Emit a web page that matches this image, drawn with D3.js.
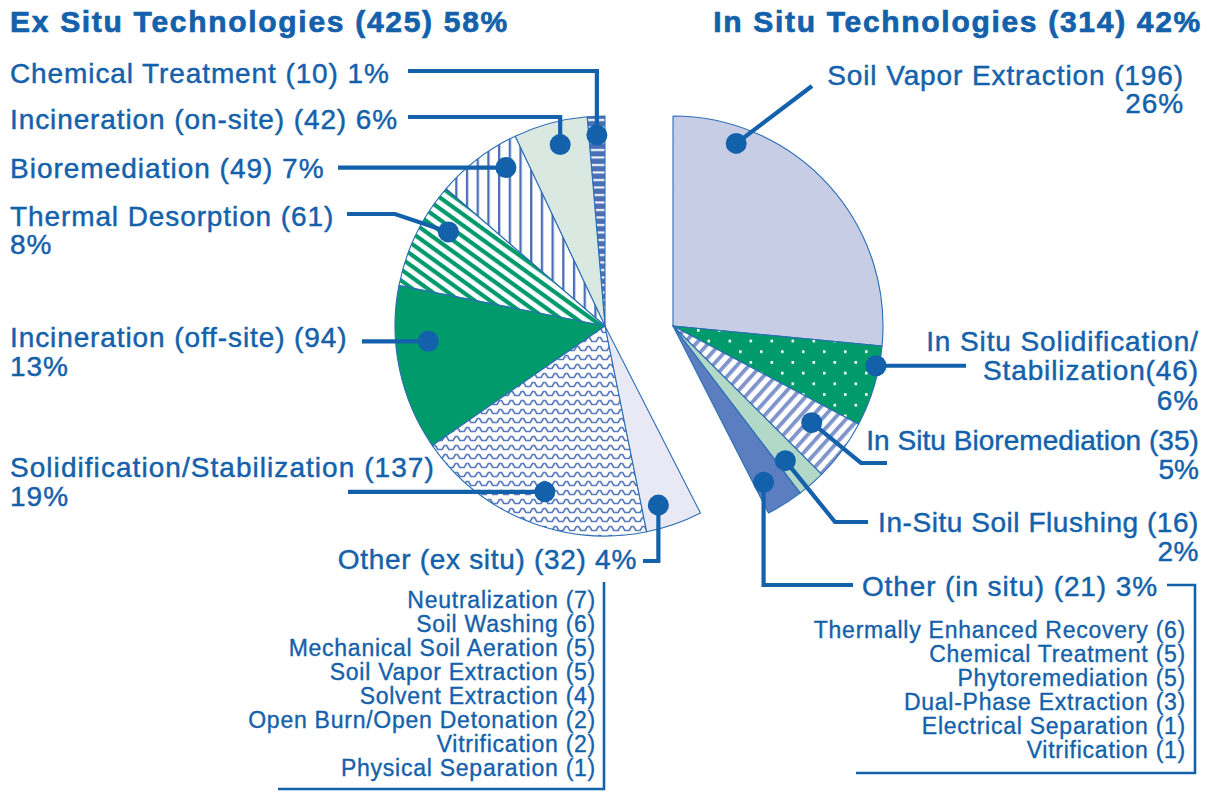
<!DOCTYPE html>
<html><head><meta charset="utf-8">
<script src="https://cdn.jsdelivr.net/npm/d3@7"></script>
<style>
html,body{margin:0;padding:0;background:#fff;}
svg{display:block;font-family:"Liberation Sans",Arial,Helvetica,sans-serif;}
</style></head><body>
<svg id="chart" width="1207" height="791"></svg>
<script>
// ---------------- DATA ----------------
const groupNames = ["Ex Situ Technologies", "In Situ Technologies"];
const groupTotals = [425, 314];
const groupPercents = [58, 42];

const exCategories = ["Chemical Treatment", "Incineration (on-site)", "Bioremediation", "Thermal Desorption",
  "Incineration (off-site)", "Solidification/Stabilization", "Other (ex situ)"];
const exValues = [10, 42, 49, 61, 94, 137, 32];
const exPercents = [1, 6, 7, 8, 13, 19, 4];

const inCategories = ["Soil Vapor Extraction", "In Situ Solidification/Stabilization", "In Situ Bioremediation",
  "In-Situ Soil Flushing", "Other (in situ)"];
const inValues = [196, 46, 35, 16, 21];
const inPercents = [26, 6, 5, 2, 3];

const exOtherItems = ["Neutralization", "Soil Washing", "Mechanical Soil Aeration", "Soil Vapor Extraction",
  "Solvent Extraction", "Open Burn/Open Detonation", "Vitrification", "Physical Separation"];
const exOtherCounts = [7, 6, 5, 5, 4, 2, 2, 1];
const inOtherItems = ["Thermally Enhanced Recovery", "Chemical Treatment", "Phytoremediation",
  "Dual-Phase Extraction", "Electrical Separation", "Vitrification"];
const inOtherCounts = [6, 5, 5, 3, 1, 1];

// ---------------- LAYOUT / STYLE ----------------
const BLUE = "#1461ab";
const R = 210;
const exCenter = [605, 326], inCenter = [673, 326];
const svg = d3.select("#chart");

const total = d3.sum(exValues) + d3.sum(inValues);
const angle = d3.scaleLinear().domain([0, total]).range([0, 2 * Math.PI]);

// patterns
const defs = svg.append("defs");
function pat(id, w, h, bg, transform) {
  const p = defs.append("pattern").attr("id", id).attr("patternUnits", "userSpaceOnUse")
    .attr("width", w).attr("height", h);
  if (transform) p.attr("patternTransform", transform);
  p.append("rect").attr("width", w).attr("height", h).attr("fill", bg);
  return p;
}
let p;
p = pat("pChem", 8, 7.5, "#4a70b6");
p.append("rect").attr("x", 0).attr("y", 3).attr("width", 8).attr("height", 2).attr("fill", "#fff");
p = pat("pVert", 10.7, 10, "#fff");
p.append("rect").attr("x", 0).attr("y", 0).attr("width", 2.3).attr("height", 10).attr("fill", "#4a6fb5");
p = pat("pDiagG", 9, 9, "#fff", "rotate(36)");
p.append("rect").attr("x", 0).attr("y", 0).attr("width", 9).attr("height", 4.2).attr("fill", "#009a6b");
p = pat("pZig", 11, 9, "#fff");
p.append("path").attr("d", "M0,6.5 L2.2,6.5 L4.4,2.5 L6.6,2.5 L8.8,6.5 L11,6.5")
  .attr("fill", "none").attr("stroke", "#5a7bbf").attr("stroke-width", 1.7);
p = pat("pDots", 21, 21.4, "#009a6b");
p.append("rect").attr("x", 3).attr("y", 3).attr("width", 2.6).attr("height", 2.6).attr("fill", "#fff");
p.append("rect").attr("x", 13.5).attr("y", 13.7).attr("width", 2.6).attr("height", 2.6).attr("fill", "#fff");
p = pat("pDiagB", 9, 9, "#fff", "rotate(-48)");
p.append("rect").attr("x", 0).attr("y", 0).attr("width", 9).attr("height", 3.8).attr("fill", "#7f93cc");

const exFills = ["url(#pChem)", "#d9e9e2", "url(#pVert)", "url(#pDiagG)", "#009a6b", "url(#pZig)", "#e9e9f5"];
const inFills = ["#c8cde6", "url(#pDots)", "url(#pDiagB)", "#b2d9c8", "#5b7ec0"];

const arc = d3.arc().innerRadius(0).outerRadius(R);
const exPie = d3.pie().sort(null).startAngle(0).endAngle(-angle(d3.sum(exValues)))(exValues);
const inPie = d3.pie().sort(null).startAngle(0).endAngle(angle(d3.sum(inValues)))(inValues);

function drawPie(arcs, center, fills) {
  const g = svg.append("g").attr("transform", `translate(${center[0]},${center[1]})`);
  g.selectAll("path").data(arcs).join("path")
    .attr("d", arc).attr("fill", (d, i) => fills[i])
    .attr("stroke", "#2c6db4").attr("stroke-width", 1.1).attr("stroke-linejoin", "round");
}
drawPie(exPie, exCenter, exFills);
drawPie(inPie, inCenter, inFills);

// leader layout: position of dot inside slice (t along angle, radius fraction), then path after dot
const one = (n, v, pc) => [`${n} (${v}) ${pc}%`];
const two = (n, v, pc) => [`${n} (${v})`, `${pc}%`];
const exLead = [
  {t: .5, rf: .91, path: d => [[d.x, 71], [408, 71]], anchor: "start", x: 10, ys: [83], lines: one},
  {t: .44, rf: .89, path: d => [[d.x, 117], [408, 117]], anchor: "start", x: 10, ys: [129], lines: one},
  {t: .28, rf: .89, path: d => [[338, d.y]], anchor: "start", x: 10, ys: [178], lines: one, ls: 1.0},
  {t: .33, rf: .87, path: d => [[395, 214], [347, 214]], anchor: "start", x: 10, ys: [226, 254], lines: two},
  {t: .35, rf: .845, path: d => [[362, d.y]], anchor: "start", x: 10, ys: [347, 376], lines: two},
  {t: .53, rf: .84, path: d => [[348, d.y]], anchor: "start", x: 10, ys: [477, 506], lines: two, ls: 1.05},
  {t: .33, rf: .89, path: d => [[d.x, 561], [643, 561]], anchor: "end", x: 637, ys: [569], lines: one, ls: 0.7}
];
const inLead = [
  {t: .2, rf: .92, path: d => [[812, 86]], anchor: "end", x: 1184, ys: [85, 113], lines: two},
  {t: .25, rf: .985, path: d => [[966, d.y]], anchor: "end", x: 1199, ys: [351, 380, 410],
    lines: (n, v, pc) => { const k = n.indexOf("/") + 1; return [n.slice(0, k), `${n.slice(k)}(${v})`, `${pc}%`]; }},
  {t: .41, rf: .805, path: d => [[861, 463], [887, 463]], anchor: "end", x: 1199, ys: [450, 479], lines: two, ls: 0.05},
  {t: .67, rf: .835, path: d => [[835, 522], [868, 522]], anchor: "end", x: 1199, ys: [532, 561], lines: two, ls: 0.55},
  {t: .7, rf: .86, path: d => [[d.x, 585], [853, 585]], anchor: "end", x: 1158, ys: [596], lines: one}
];

const line = d3.line();
function drawLeaders(arcs, center, lead, names, vals, pcts) {
  arcs.forEach((a, i) => {
    const L = lead[i];
    const ang = a.startAngle + L.t * (a.endAngle - a.startAngle);
    const r = L.rf * R;
    const dot = {x: center[0] + r * Math.sin(ang), y: center[1] - r * Math.cos(ang)};
    const pts = [[dot.x, dot.y], ...L.path(dot)];
    svg.append("path").attr("d", line(pts)).attr("fill", "none").attr("stroke", BLUE)
      .attr("stroke-width", 4.2).attr("stroke-linejoin", "miter");
    svg.append("circle").attr("cx", dot.x).attr("cy", dot.y).attr("r", 10.5).attr("fill", BLUE);
    const txt = L.lines(names[i], vals[i], pcts[i]);
    txt.forEach((s, j) => {
      svg.append("text").attr("x", L.x).attr("y", L.ys[j]).attr("text-anchor", L.anchor)
        .attr("fill", BLUE).attr("stroke", BLUE).attr("stroke-width", 0.45)
        .attr("font-size", 28).attr("letter-spacing", L.ls != null ? L.ls : 0.9).text(s);
    });
  });
}
drawLeaders(exPie, exCenter, exLead, exCategories, exValues, exPercents);
drawLeaders(inPie, inCenter, inLead, inCategories, inValues, inPercents);

// titles
svg.append("text").attr("x", 10).attr("y", 32).attr("fill", BLUE).attr("stroke", BLUE).attr("stroke-width", 0.7)
  .attr("font-weight", "bold").attr("font-size", 30).attr("letter-spacing", 1.7)
  .text(`${groupNames[0]} (${groupTotals[0]}) ${groupPercents[0]}%`);
svg.append("text").attr("x", 1202).attr("y", 32).attr("fill", BLUE).attr("stroke", BLUE).attr("stroke-width", 0.7)
  .attr("font-weight", "bold").attr("font-size", 30).attr("letter-spacing", 1.7).attr("text-anchor", "end")
  .text(`${groupNames[1]} (${groupTotals[1]}) ${groupPercents[1]}%`);

// "other" breakdown lists
svg.append("g").selectAll("text").data(exOtherItems).join("text")
  .attr("x", 596).attr("y", (d, i) => 608 + i * 24).attr("text-anchor", "end")
  .attr("fill", BLUE).attr("stroke", BLUE).attr("stroke-width", 0.35)
  .attr("font-size", 23).attr("letter-spacing", 0.75)
  .text((d, i) => `${d} (${exOtherCounts[i]})`);
svg.append("g").selectAll("text").data(inOtherItems).join("text")
  .attr("x", 1186).attr("y", (d, i) => 638 + i * 24).attr("text-anchor", "end")
  .attr("fill", BLUE).attr("stroke", BLUE).attr("stroke-width", 0.35)
  .attr("font-size", 23).attr("letter-spacing", 0.75)
  .text((d, i) => `${d} (${inOtherCounts[i]})`);

// brackets
svg.append("path").attr("d", line([[604, 582], [604, 789], [278, 789]]))
  .attr("fill", "none").attr("stroke", BLUE).attr("stroke-width", 2.6);
svg.append("path").attr("d", line([[1167, 585], [1195, 585], [1195, 773], [856, 773]]))
  .attr("fill", "none").attr("stroke", BLUE).attr("stroke-width", 2.6);
</script>
</body></html>
